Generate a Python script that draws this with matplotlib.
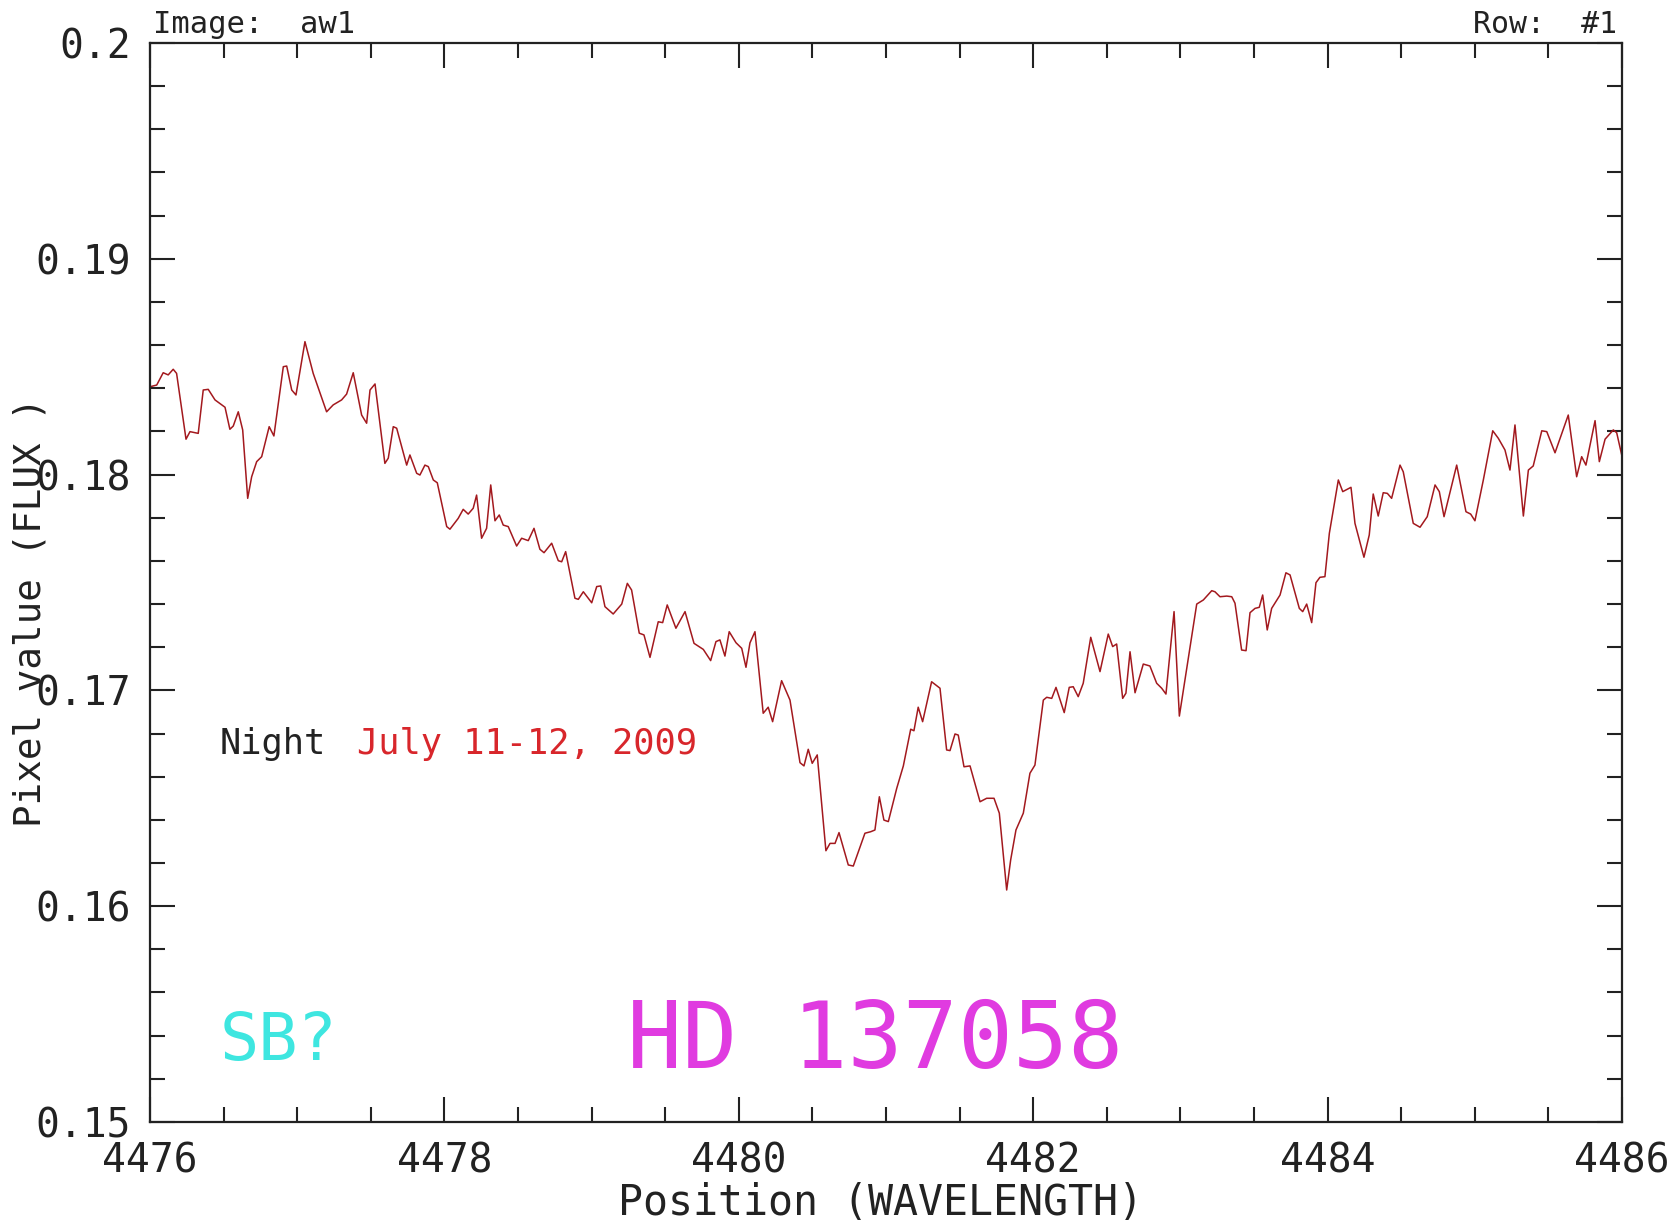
import numpy as np
import matplotlib
matplotlib.use('Agg')
import matplotlib.pyplot as plt
from matplotlib.ticker import MultipleLocator

plt.rcParams['font.family'] = ['DejaVu Sans Mono']

# Spectrum of HD 137058
wavelength = [
    4476.000, 4476.046, 4476.090, 4476.124, 4476.158, 4476.181, 4476.245, 4476.272,
    4476.328, 4476.362, 4476.396, 4476.442, 4476.510, 4476.543, 4476.566, 4476.600,
    4476.630, 4476.664, 4476.691, 4476.725, 4476.759, 4476.810, 4476.842, 4476.906,
    4476.929, 4476.963, 4476.992, 4477.053, 4477.109, 4477.200, 4477.245, 4477.302,
    4477.336, 4477.381, 4477.438, 4477.472, 4477.495, 4477.529, 4477.596, 4477.619,
    4477.653, 4477.676, 4477.744, 4477.766, 4477.812, 4477.834, 4477.868, 4477.891,
    4477.925, 4477.952, 4478.016, 4478.038, 4478.094, 4478.128, 4478.162, 4478.196,
    4478.219, 4478.253, 4478.287, 4478.315, 4478.344, 4478.373, 4478.400, 4478.434,
    4478.491, 4478.525, 4478.570, 4478.609, 4478.649, 4478.677, 4478.729, 4478.774,
    4478.797, 4478.824, 4478.887, 4478.910, 4478.944, 4479.001, 4479.035, 4479.062,
    4479.091, 4479.147, 4479.205, 4479.243, 4479.272, 4479.324, 4479.356, 4479.397,
    4479.453, 4479.483, 4479.514, 4479.573, 4479.635, 4479.696, 4479.759, 4479.809,
    4479.845, 4479.872, 4479.906, 4479.935, 4479.981, 4480.020, 4480.049, 4480.076,
    4480.110, 4480.166, 4480.200, 4480.230, 4480.291, 4480.348, 4480.416, 4480.443,
    4480.472, 4480.499, 4480.533, 4480.592, 4480.620, 4480.654, 4480.681, 4480.744,
    4480.778, 4480.857, 4480.896, 4480.925, 4480.955, 4480.986, 4481.016, 4481.073,
    4481.118, 4481.168, 4481.190, 4481.219, 4481.249, 4481.310, 4481.367, 4481.412,
    4481.435, 4481.469, 4481.491, 4481.530, 4481.571, 4481.639, 4481.684, 4481.734,
    4481.770, 4481.820, 4481.847, 4481.883, 4481.933, 4481.978, 4482.012, 4482.069,
    4482.092, 4482.126, 4482.155, 4482.211, 4482.245, 4482.272, 4482.306, 4482.340,
    4482.391, 4482.454, 4482.510, 4482.540, 4482.567, 4482.608, 4482.630, 4482.658,
    4482.692, 4482.748, 4482.793, 4482.839, 4482.873, 4482.902, 4482.957, 4482.993,
    4483.043, 4483.111, 4483.156, 4483.213, 4483.235, 4483.269, 4483.315, 4483.349,
    4483.371, 4483.416, 4483.446, 4483.473, 4483.507, 4483.536, 4483.559, 4483.590,
    4483.620, 4483.677, 4483.717, 4483.745, 4483.808, 4483.831, 4483.858, 4483.892,
    4483.921, 4483.948, 4483.982, 4484.012, 4484.073, 4484.103, 4484.159, 4484.186,
    4484.247, 4484.283, 4484.310, 4484.344, 4484.378, 4484.406, 4484.435, 4484.492,
    4484.514, 4484.582, 4484.628, 4484.677, 4484.730, 4484.759, 4484.791, 4484.877,
    4484.940, 4484.972, 4485.001, 4485.058, 4485.122, 4485.160, 4485.205, 4485.239,
    4485.273, 4485.330, 4485.364, 4485.397, 4485.455, 4485.489, 4485.545, 4485.635,
    4485.692, 4485.726, 4485.755, 4485.817, 4485.846, 4485.885, 4485.941, 4485.964,
    4485.998,
]
flux = [
    0.18407, 0.18415, 0.18472, 0.18462, 0.18488, 0.18469, 0.18164, 0.18199,
    0.18191, 0.18392, 0.18395, 0.18346, 0.18312, 0.18210, 0.18225, 0.18291,
    0.18207, 0.17890, 0.17990, 0.18060, 0.18083, 0.18222, 0.18179, 0.18500,
    0.18503, 0.18392, 0.18369, 0.18616, 0.18469, 0.18291, 0.18323, 0.18346,
    0.18373, 0.18472, 0.18276, 0.18238, 0.18392, 0.18420, 0.18052, 0.18076,
    0.18222, 0.18215, 0.18044, 0.18091, 0.18006, 0.17998, 0.18044, 0.18037,
    0.17975, 0.17962, 0.17759, 0.17747, 0.17797, 0.17839, 0.17817, 0.17844,
    0.17905, 0.17705, 0.17751, 0.17952, 0.17786, 0.17813, 0.17766, 0.17759,
    0.17669, 0.17705, 0.17694, 0.17751, 0.17654, 0.17638, 0.17682, 0.17601,
    0.17596, 0.17643, 0.17427, 0.17422, 0.17457, 0.17406, 0.17481, 0.17484,
    0.17388, 0.17354, 0.17400, 0.17496, 0.17465, 0.17265, 0.17257, 0.17153,
    0.17318, 0.17314, 0.17396, 0.17288, 0.17365, 0.17218, 0.17190, 0.17138,
    0.17226, 0.17234, 0.17159, 0.17272, 0.17221, 0.17195, 0.17107, 0.17220,
    0.17272, 0.16894, 0.16922, 0.16855, 0.17045, 0.16955, 0.16665, 0.16650,
    0.16727, 0.16662, 0.16701, 0.16257, 0.16291, 0.16291, 0.16341, 0.16191,
    0.16186, 0.16338, 0.16345, 0.16353, 0.16507, 0.16399, 0.16392, 0.16546,
    0.16650, 0.16820, 0.16813, 0.16922, 0.16855, 0.17040, 0.17010, 0.16724,
    0.16721, 0.16798, 0.16793, 0.16646, 0.16650, 0.16484, 0.16500, 0.16500,
    0.16431, 0.16075, 0.16214, 0.16353, 0.16431, 0.16616, 0.16654, 0.16955,
    0.16968, 0.16963, 0.17014, 0.16897, 0.17014, 0.17017, 0.16971, 0.17033,
    0.17246, 0.17087, 0.17261, 0.17203, 0.17215, 0.16963, 0.16987, 0.17179,
    0.16989, 0.17122, 0.17113, 0.17033, 0.17010, 0.16983, 0.17365, 0.16881,
    0.17102, 0.17400, 0.17419, 0.17462, 0.17457, 0.17434, 0.17437, 0.17434,
    0.17404, 0.17187, 0.17184, 0.17360, 0.17380, 0.17385, 0.17442, 0.17280,
    0.17380, 0.17442, 0.17545, 0.17535, 0.17380, 0.17365, 0.17400, 0.17314,
    0.17499, 0.17524, 0.17527, 0.17728, 0.17975, 0.17921, 0.17941, 0.17774,
    0.17617, 0.17720, 0.17910, 0.17808, 0.17916, 0.17913, 0.17890, 0.18044,
    0.18013, 0.17774, 0.17756, 0.17805, 0.17952, 0.17921, 0.17805, 0.18044,
    0.17828, 0.17817, 0.17786, 0.17975, 0.18203, 0.18168, 0.18114, 0.18021,
    0.18230, 0.17808, 0.18021, 0.18040, 0.18203, 0.18199, 0.18101, 0.18276,
    0.17990, 0.18083, 0.18044, 0.18250, 0.18060, 0.18164, 0.18207, 0.18194,
    0.18091,
]

x_ticks = [4476, 4478, 4480, 4482, 4484, 4486]
x_ticklabels = ['4476', '4478', '4480', '4482', '4484', '4486']
y_ticks = [0.15, 0.16, 0.17, 0.18, 0.19, 0.2]
y_ticklabels = ['0.15', '0.16', '0.17', '0.18', '0.19', '0.2']

dpi = 100
fig = plt.figure(figsize=(1681 / dpi, 1225 / dpi), dpi=dpi)
ax = fig.add_axes([0.0892, 0.0841, 0.9649 - 0.0892, 0.9649 - 0.0841])

ax.plot(wavelength, flux, color='#a3191e', lw=1.1)

ax.set_xlim(4476, 4486)
ax.set_ylim(0.15, 0.2)
ax.set_xticks(x_ticks)
ax.set_xticklabels(x_ticklabels)
ax.set_yticks(y_ticks)
ax.set_yticklabels(y_ticklabels)
ax.xaxis.set_minor_locator(MultipleLocator(0.5))
ax.yaxis.set_minor_locator(MultipleLocator(0.002))
ax.tick_params(which='both', direction='in', top=True, right=True,
               color='#222222', width=1.5)
ax.tick_params(which='major', length=18, labelsize=28.5, pad=14, labelcolor='#222222')
ax.tick_params(which='minor', length=11)
for s in ax.spines.values():
    s.set_linewidth(1.6)
    s.set_color('#222222')

# labels, placed like the IRAF plot
fig.text(0.018, 0.5, 'Pixel value (FLUX )', rotation=90, ha='center', va='center',
         fontsize=27, color='#222222')
fig.text(0.524, 0.018, 'Position (WAVELENGTH)', ha='center', va='center',
         fontsize=30, color='#222222')
fig.text(0.091, 0.973, 'Image:  aw1', ha='left', va='baseline', fontsize=22, color='#222222')
fig.text(0.962, 0.973, 'Row:  #1', ha='right', va='baseline', fontsize=21.5, color='#222222')

# annotations
ax.text(4476.476, 0.16752, 'Night', ha='left', va='center', fontsize=25.5, color='#222222')
ax.text(4477.406, 0.16752, 'July 11-12, 2009', ha='left', va='center', fontsize=25.5,
        color='#d8262b')
ax.text(4476.476, 0.15371, 'SB?', ha='left', va='center', fontsize=47, color='#3ee6e0')
ax.text(4479.24, 0.15371, 'HD 137058', ha='left', va='center', fontsize=66,
        color='#e03be0')

fig.savefig('out.png', dpi=dpi)
